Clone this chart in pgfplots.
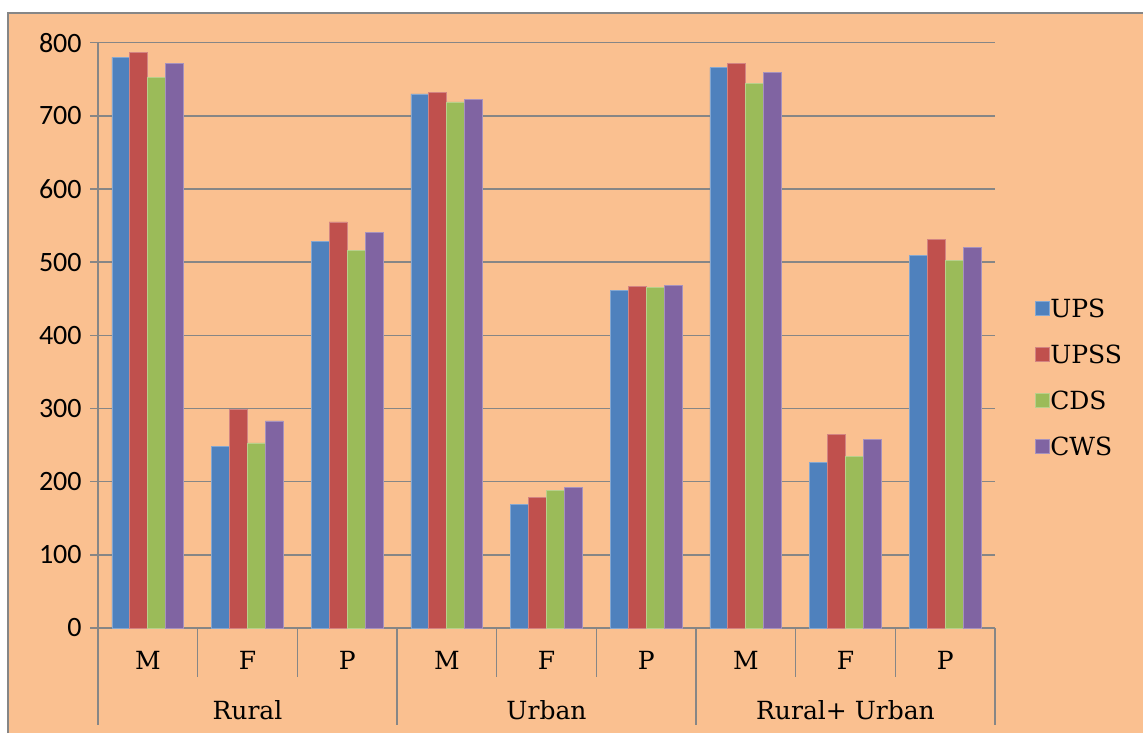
\documentclass[border=0pt]{standalone}
\usepackage{pgfplots}
\pgfplotsset{compat=1.18}
\usepackage{fontspec}
\setmainfont{DejaVu Serif}
\newfontfamily\tickfont{Carlito}
\definecolor{bg}{HTML}{FAC090}
\definecolor{gridgray}{HTML}{868686}
\definecolor{cA}{HTML}{4F81BD}
\definecolor{cB}{HTML}{C0504D}
\definecolor{cC}{HTML}{9BBB59}
\definecolor{cD}{HTML}{8064A2}
\begin{document}
\begin{tikzpicture}[x=1pt,y=1pt]
\useasboundingbox (-49,-52.5) rectangle (522.5,314);
\fill[white] (-49,-52.5) rectangle (522.5,314);
\fill[bg] (-45,-52.5) rectangle (522.5,307.5);
\draw[gridgray, line width=0.6pt] (-45,-52.5) -- (-45,307.5) -- (522.5,307.5);
\begin{axis}[
  at={(0,0)}, anchor=south west, scale only axis,
  width=448.5pt, height=292.65pt,
  ybar=0pt, bar width=0.18,
  xmin=-0.5, xmax=8.5, ymin=0, ymax=800,
  ytick={0,100,...,800}, xtick=\empty,
  ymajorgrids, grid style={gridgray, line width=0.7pt},
  axis x line*=bottom, axis y line*=left,
  axis line style={gridgray, line width=0.7pt},
  tick align=outside, major tick length=4pt,
  ytick style={gridgray, line width=0.7pt},
  yticklabel style={font=\tickfont\fontsize{14}{16}\selectfont, text=black, inner sep=0pt, xshift=-4pt},
  /pgf/number format/assume math mode=true,
  clip=false,
  legend style={at={(1.038,0.428)}, anchor=west, draw=none, fill=none,
    font=\fontsize{12.5}{14}\selectfont, row sep=14pt,
    nodes={inner sep=0pt, text height=9pt, text depth=0pt, xshift=4.5pt}},
  legend cell align=left,
  legend image code/.code={\fill[#1] (0pt,-3.5pt) rectangle (7pt,3.5pt);},
]
\addplot[fill=cA, draw=cA!70!white, line width=0.4pt] coordinates {(0,780) (1,248) (2,528) (3,730) (4,169) (5,461) (6,766) (7,226) (8,509)};
\addplot[fill=cB, draw=cB!70!white, line width=0.4pt] coordinates {(0,787) (1,299) (2,555) (3,732) (4,178) (5,467) (6,772) (7,265) (8,531)};
\addplot[fill=cC, draw=cC!70!white, line width=0.4pt] coordinates {(0,753) (1,253) (2,516) (3,719) (4,188) (5,465) (6,744) (7,235) (8,502)};
\addplot[fill=cD, draw=cD!70!white, line width=0.4pt] coordinates {(0,772) (1,283) (2,541) (3,723) (4,192) (5,468) (6,759) (7,258) (8,520)};
\legend{UPS,UPSS,CDS,CWS}
% separators
\draw[gridgray, line width=0.7pt] (axis cs:-0.5,0) -- ([yshift=-48.5pt]axis cs:-0.5,0);
\draw[gridgray, line width=0.7pt] (axis cs:2.5,0) -- ([yshift=-48.5pt]axis cs:2.5,0);
\draw[gridgray, line width=0.7pt] (axis cs:5.5,0) -- ([yshift=-48.5pt]axis cs:5.5,0);
\draw[gridgray, line width=0.7pt] (axis cs:8.5,0) -- ([yshift=-48.5pt]axis cs:8.5,0);
\draw[gridgray, line width=0.7pt] (axis cs:0.5,0) -- ([yshift=-24.5pt]axis cs:0.5,0);
\draw[gridgray, line width=0.7pt] (axis cs:1.5,0) -- ([yshift=-24.5pt]axis cs:1.5,0);
\draw[gridgray, line width=0.7pt] (axis cs:3.5,0) -- ([yshift=-24.5pt]axis cs:3.5,0);
\draw[gridgray, line width=0.7pt] (axis cs:4.5,0) -- ([yshift=-24.5pt]axis cs:4.5,0);
\draw[gridgray, line width=0.7pt] (axis cs:6.5,0) -- ([yshift=-24.5pt]axis cs:6.5,0);
\draw[gridgray, line width=0.7pt] (axis cs:7.5,0) -- ([yshift=-24.5pt]axis cs:7.5,0);
% category labels
\node[font=\fontsize{12.5}{14}\selectfont] at ([yshift=-16pt]axis cs:0,0) {M};
\node[font=\fontsize{12.5}{14}\selectfont] at ([yshift=-16pt]axis cs:1,0) {F};
\node[font=\fontsize{12.5}{14}\selectfont] at ([yshift=-16pt]axis cs:2,0) {P};
\node[font=\fontsize{12.5}{14}\selectfont] at ([yshift=-16pt]axis cs:3,0) {M};
\node[font=\fontsize{12.5}{14}\selectfont] at ([yshift=-16pt]axis cs:4,0) {F};
\node[font=\fontsize{12.5}{14}\selectfont] at ([yshift=-16pt]axis cs:5,0) {P};
\node[font=\fontsize{12.5}{14}\selectfont] at ([yshift=-16pt]axis cs:6,0) {M};
\node[font=\fontsize{12.5}{14}\selectfont] at ([yshift=-16pt]axis cs:7,0) {F};
\node[font=\fontsize{12.5}{14}\selectfont] at ([yshift=-16pt]axis cs:8,0) {P};
\node[font=\fontsize{12.5}{14}\selectfont] at ([yshift=-41pt]axis cs:1,0) {Rural};
\node[font=\fontsize{12.5}{14}\selectfont] at ([yshift=-41pt]axis cs:4,0) {Urban};
\node[font=\fontsize{12.5}{14}\selectfont] at ([yshift=-41pt]axis cs:7,0) {Rural+ Urban};
\end{axis}
\end{tikzpicture}
\end{document}
